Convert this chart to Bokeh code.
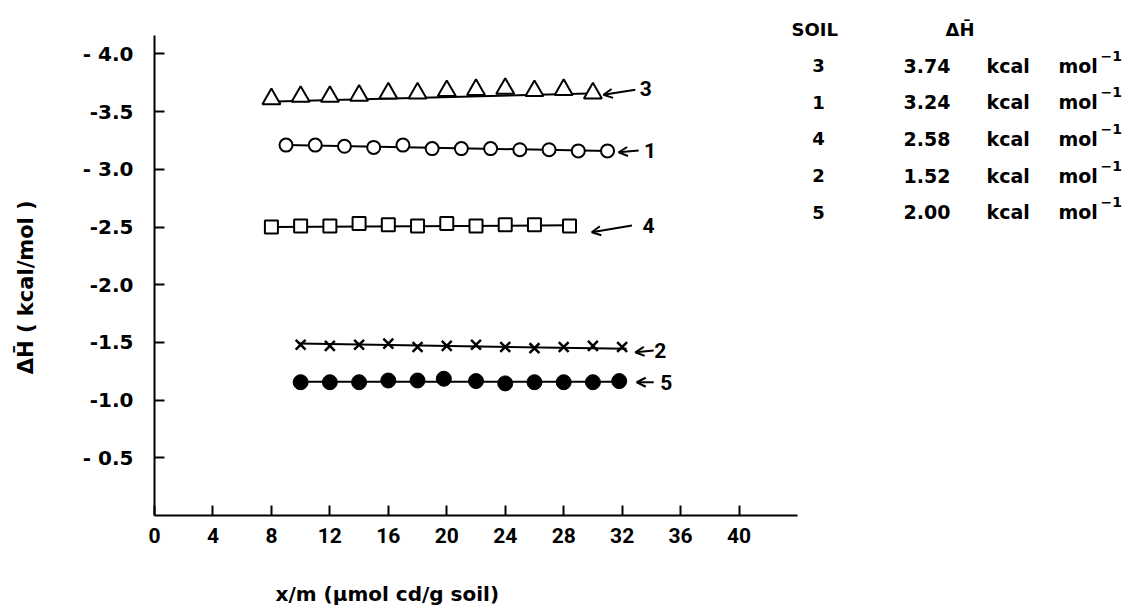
from bokeh.plotting import figure
from bokeh.models import Range1d, FixedTicker, Label, Arrow, OpenHead
from bokeh.core.properties import value
from bokeh.embed import file_html
from bokeh.resources import INLINE

FONT = "DejaVu Sans"
TICKFONT = "Roboto"
NBSP = "\u00a0"

# ---- data (x/m in umol Cd / g soil, dH in kcal/mol) ----
s3_x = [8, 10, 12, 14, 16, 18, 20, 22, 24, 26, 28, 30]
s3_y = [-3.61, -3.63, -3.63, -3.64, -3.66, -3.66, -3.68, -3.69, -3.70, -3.68, -3.69, -3.66]
s3_fit_x = [7.6, 30.4]
s3_fit_y = [-3.585, -3.66]

s1_x = [9, 11, 13, 15, 17, 19, 21, 23, 25, 27, 29, 31]
s1_y = [-3.21, -3.21, -3.20, -3.19, -3.21, -3.18, -3.18, -3.18, -3.17, -3.17, -3.16, -3.16]
s1_fit_x = [9, 31]
s1_fit_y = [-3.21, -3.16]

s4_x = [8, 10, 12, 14, 16, 18, 20, 22, 24, 26, 28.4]
s4_y = [-2.50, -2.51, -2.51, -2.53, -2.52, -2.51, -2.53, -2.51, -2.52, -2.52, -2.51]
s4_fit_x = [8, 28.4]
s4_fit_y = [-2.50, -2.515]

s2_x = [10, 12, 14, 16, 18, 20, 22, 24, 26, 28, 30, 32]
s2_y = [-1.48, -1.47, -1.48, -1.49, -1.46, -1.47, -1.48, -1.46, -1.45, -1.46, -1.47, -1.46]
s2_fit_x = [9.9, 32.3]
s2_fit_y = [-1.49, -1.445]

s5_x = [10, 12, 14, 16, 18, 19.8, 22, 24, 26, 28, 30, 31.8]
s5_y = [-1.155, -1.155, -1.155, -1.17, -1.17, -1.185, -1.165, -1.145, -1.155, -1.155, -1.155, -1.165]
s5_fit_x = [10, 31.8]
s5_fit_y = [-1.16, -1.16]

x_ticks = [0, 4, 8, 12, 16, 20, 24, 28, 32, 36, 40]
y_ticks = [-4.0, -3.5, -3.0, -2.5, -2.0, -1.5, -1.0, -0.5]
y_tick_labels = ["- 4.0", "-3.5", "- 3.0", "-2.5", "-2.0", "-1.5", "-1.0", "- 0.5"]

legend_soils = ["3", "1", "4", "2", "5"]
legend_dh = ["3.74", "3.24", "2.58", "1.52", "2.00"]

# axis extents (data units)
X_AXIS_END = 44
Y_AXIS_END = -4.16

# ---- figure: frame spans to the right edge and top so the side table fits inside ----
W, H = 1128, 610
LEFT, BOTTOM = 154, 95
px_x = (X_AXIS_END - 0) / 643.0          # data units per pixel (x)
px_y = (0 - Y_AXIS_END) / 480.0          # data units per pixel (y)
x_end = (W - LEFT) * px_x
y_end = -(H - BOTTOM) * px_y

p = figure(width=W, height=H, output_backend="svg", toolbar_location=None,
           x_range=Range1d(0, x_end), y_range=Range1d(0, y_end),
           min_border_left=LEFT, min_border_right=0, min_border_top=0, min_border_bottom=BOTTOM)
p.outline_line_color = None
p.grid.visible = False

for ax in (p.xaxis[0], p.yaxis[0]):
    ax.axis_line_width = 2
    ax.axis_line_color = "black"
    ax.major_tick_in = 10
    ax.major_tick_out = 0
    ax.major_tick_line_width = 2
    ax.major_tick_line_color = "black"
    ax.minor_tick_line_color = None
    ax.major_label_text_font_style = "bold"
    ax.major_label_text_color = "black"
    ax.axis_label_text_font = FONT
    ax.axis_label_text_font_style = "bold"
    ax.axis_label_text_font_size = "20px"
    ax.axis_label_text_color = "black"

xa = p.xaxis[0]
xa.bounds = (0, X_AXIS_END)
xa.ticker = FixedTicker(ticks=x_ticks)
xa.major_label_text_font = TICKFONT
xa.major_label_text_font_size = "21px"
xa.major_label_standoff = 12
xa.axis_label = "x/m (μmol cd/g soil)" + NBSP * 73
xa.axis_label_standoff = 36

ya = p.yaxis[0]
ya.bounds = (Y_AXIS_END, 0)
ya.ticker = FixedTicker(ticks=y_ticks)
ya.major_label_overrides = {t: s for t, s in zip(y_ticks, y_tick_labels)}
ya.major_label_text_font = FONT
ya.major_label_text_font_size = "20px"
ya.major_label_standoff = 21
ya.axis_label = "ΔH\u0304   ( kcal/mol )" + NBSP * 6
ya.axis_label_text_font_size = "21px"
ya.axis_label_standoff = 42

# ---- series ----
lw = 2
p.line(s3_fit_x, s3_fit_y, line_color="black", line_width=lw)
p.scatter(s3_x, s3_y, marker="triangle", size=18, fill_color="white", line_color="black", line_width=lw)

p.line(s1_fit_x, s1_fit_y, line_color="black", line_width=lw)
p.scatter(s1_x, s1_y, marker="circle", size=13, fill_color="white", line_color="black", line_width=lw)

p.line(s4_fit_x, s4_fit_y, line_color="black", line_width=lw)
p.scatter(s4_x, s4_y, marker="square", size=13, fill_color="white", line_color="black", line_width=lw)

p.line(s2_fit_x, s2_fit_y, line_color="black", line_width=lw)
p.scatter(s2_x, s2_y, marker="x", size=14, line_color="black", line_width=2.5)

p.line(s5_fit_x, s5_fit_y, line_color="black", line_width=lw)
p.scatter(s5_x, s5_y, marker="circle", size=15, fill_color="black", line_color="black", line_width=1)

# ---- arrows with soil labels ----
arrow_tail = [(32.9, -3.69), (33.13, -3.163), (32.67, -2.513), (34.16, -1.43), (34.16, -1.155)]
arrow_head = [(30.72, -3.646), (31.76, -3.148), (29.92, -2.455), (32.9, -1.415), (33.0, -1.155)]
label_pos = [(33.2, -3.70), (33.5, -3.16), (33.4, -2.51), (34.2, -1.43), (34.6, -1.155)]
curve_ids = ["3", "1", "4", "2", "5"]
for (tx, ty), (hx, hy), (lx, ly), cid in zip(arrow_tail, arrow_head, label_pos, curve_ids):
    p.add_layout(Arrow(x_start=tx, y_start=ty, x_end=hx, y_end=hy, line_width=2, line_color="black",
                       end=OpenHead(size=9, line_width=2, line_color="black")))
    p.add_layout(Label(x=lx, y=ly, text=cid, text_font=TICKFONT, text_font_style="bold",
                       text_font_size="21px", text_baseline="middle", text_align="left",
                       text_color="black"))

# ---- side table (inside the frame, right of the axes) ----
def px2x(px):
    return (px - LEFT) * px_x

def py2y(py):
    return -(H - BOTTOM - py) * px_y

row_gap = 36.7
rows_y = [py2y(65 + row_gap * i) for i in range(len(legend_soils))]
sup_y = [y - 10 * px_y for y in rows_y]
head_y = py2y(29)
n = len(legend_soils)

common = dict(text_font=value(FONT), text_font_style="bold", text_color="black",
              text_baseline="middle")
p.text(x=[px2x(791), px2x(945)], y=[head_y, head_y], text=["SOIL", "ΔH\u0304"],
       text_font_size="18px", text_align="left", **common)
p.text(x=[px2x(818)] * n, y=rows_y, text=legend_soils, text_font_size="18px", text_align="center", **common)
p.text(x=[px2x(903)] * n, y=rows_y, text=legend_dh, text_font_size="19px", text_align="left", **common)
p.text(x=[px2x(986)] * n, y=rows_y, text=["kcal"] * n, text_font_size="19px", text_align="left", **common)
p.text(x=[px2x(1058)] * n, y=rows_y, text=["mol"] * n, text_font_size="19px", text_align="left", **common)
p.text(x=[px2x(1100)] * n, y=sup_y, text=["−1"] * n, text_font_size="14px", text_align="left", **common)

open("out.html", "w").write(file_html(p, INLINE))
